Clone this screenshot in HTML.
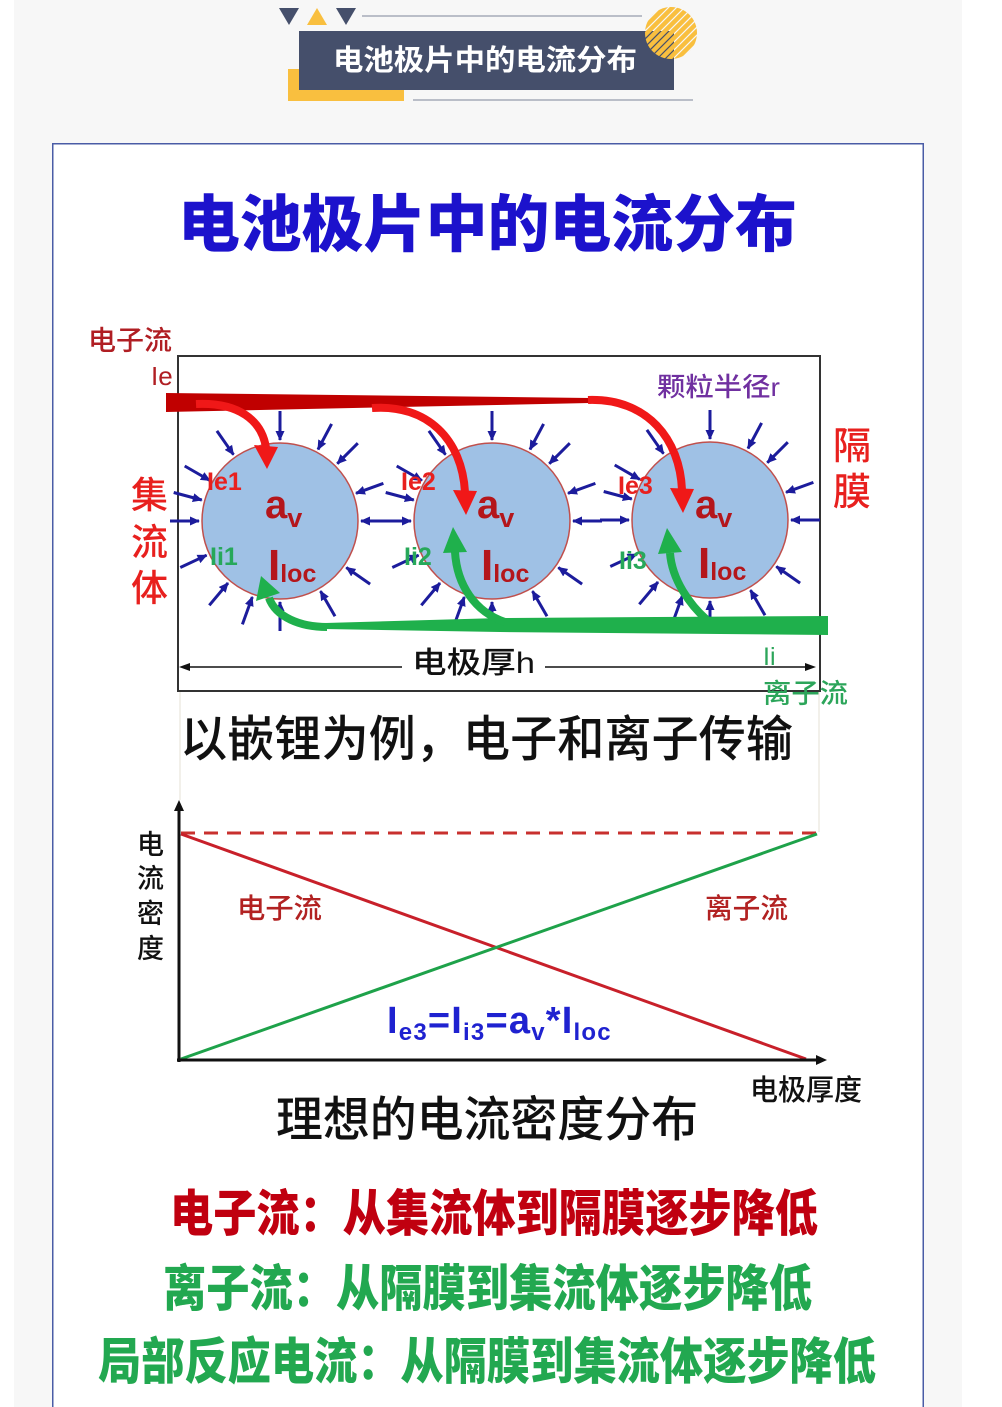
<!DOCTYPE html>
<html><head><meta charset="utf-8"><style>
html,body{margin:0;padding:0;background:#fff;}
svg{display:block}
.cjk{font-family:"Liberation Sans","Noto Sans CJK SC",sans-serif;}
.lat{font-family:"Liberation Sans",sans-serif;}
</style></head><body>
<svg width="1002" height="1407" viewBox="0 0 1002 1407" xmlns="http://www.w3.org/2000/svg">
<defs>
  <marker id="bh" markerWidth="10" markerHeight="10" refX="9" refY="5" orient="auto" markerUnits="userSpaceOnUse">
    <path d="M0,0.5 L10,5 L0,9.5 Z" fill="#1c1c9c"/>
  </marker>
  <clipPath id="cc"><circle cx="671" cy="33" r="26"/></clipPath>
  <g id="arr" stroke="#1c1c9c" stroke-width="3" marker-end="url(#bh)">
    <line x1="110" y1="0" x2="81" y2="0"/>
    <line x1="103.4" y1="-37.6" x2="76" y2="-27.7"/>
    <line x1="77.8" y1="-77.8" x2="57.3" y2="-57.3"/>
    <line x1="51.6" y1="-97.1" x2="38" y2="-71.5"/>
    <line x1="0" y1="-110" x2="0" y2="-81"/>
    <line x1="-63.1" y1="-90.1" x2="-46.5" y2="-66.3"/>
    <line x1="-95.3" y1="-55" x2="-70.1" y2="-40.5"/>
    <line x1="-106.3" y1="-28.5" x2="-78.2" y2="-21"/>
    <line x1="-110" y1="0" x2="-81" y2="0"/>
    <line x1="-99.7" y1="46.5" x2="-73.4" y2="34.2"/>
    <line x1="-70.7" y1="84.3" x2="-52" y2="62"/>
    <line x1="-37.6" y1="103.4" x2="-27.7" y2="76"/>
    <line x1="0" y1="110" x2="0" y2="81"/>
    <line x1="55" y1="95.3" x2="40.5" y2="70.1"/>
    <line x1="90.1" y1="63.1" x2="66.3" y2="46.5"/>
  </g>
</defs>

<!-- backgrounds -->
<rect x="0" y="0" width="1002" height="1407" fill="#ffffff"/>
<rect x="14" y="0" width="948" height="1407" fill="#f7f7f7"/>
<rect x="52.75" y="143.75" width="870.5" height="1290" fill="#ffffff" stroke="#4a5ca6" stroke-width="1.5"/>

<!-- header -->
<polygon points="279,8 299,8 289,25" fill="#454f6b"/>
<polygon points="307,25 327,25 317,8" fill="#f9bf3f"/>
<polygon points="336,8 356,8 346,25" fill="#454f6b"/>
<line x1="362" y1="16" x2="642" y2="16" stroke="#a6abb8" stroke-width="1.5"/>
<rect x="288" y="69" width="116" height="32" fill="#f9bf3f"/>
<rect x="299" y="31" width="375" height="59" fill="#454f6b"/>
<line x1="413" y1="100" x2="693" y2="100" stroke="#a6abb8" stroke-width="1.5"/>
<g clip-path="url(#cc)" stroke="#f9bf3f" stroke-width="4.5">
  <line x1="575" y1="73" x2="655" y2="-7"/>
  <line x1="583" y1="73" x2="663" y2="-7"/>
  <line x1="591" y1="73" x2="671" y2="-7"/>
  <line x1="599" y1="73" x2="679" y2="-7"/>
  <line x1="607" y1="73" x2="687" y2="-7"/>
  <line x1="615" y1="73" x2="695" y2="-7"/>
  <line x1="623" y1="73" x2="703" y2="-7"/>
  <line x1="631" y1="73" x2="711" y2="-7"/>
  <line x1="639" y1="73" x2="719" y2="-7"/>
  <line x1="647" y1="73" x2="727" y2="-7"/>
  <line x1="655" y1="73" x2="735" y2="-7"/>
  <line x1="663" y1="73" x2="743" y2="-7"/>
  <line x1="671" y1="73" x2="751" y2="-7"/>
  <line x1="679" y1="73" x2="759" y2="-7"/>
  <line x1="687" y1="73" x2="767" y2="-7"/>
</g>
<text class="cjk" x="333" y="70" font-size="29" font-weight="bold" fill="#ffffff" textLength="304" lengthAdjust="spacingAndGlyphs">电池极片中的电流分布</text>

<!-- main title -->
<text class="cjk" x="178" y="246" font-size="62" font-weight="900" fill="#1c12cc" textLength="619" lengthAdjust="spacingAndGlyphs">电池极片中的电流分布</text>

<!-- diagram box -->
<rect x="178" y="356" width="642" height="335" fill="none" stroke="#333" stroke-width="2"/>
<line x1="180" y1="692" x2="180" y2="800" stroke="#e4e0d4" stroke-width="1"/>
<line x1="819" y1="692" x2="819" y2="832" stroke="#e4e0d4" stroke-width="1"/>

<!-- blue arrows -->
<use href="#arr" x="280" y="521"/>
<use href="#arr" x="492" y="521"/>
<use href="#arr" x="710" y="520"/>

<!-- particles -->
<circle cx="280" cy="521" r="78" fill="#9fc1e5" stroke="#c0504d" stroke-width="1.5"/>
<circle cx="492" cy="521" r="78" fill="#9fc1e5" stroke="#c0504d" stroke-width="1.5"/>
<circle cx="710" cy="520" r="78" fill="#9fc1e5" stroke="#c0504d" stroke-width="1.5"/>

<!-- red bar and arrows -->
<polygon points="166,393 590,398 590,403 166,412" fill="#c00000"/>
<g fill="none" stroke="#f01818" stroke-width="8">
  <path d="M196,404 C238,402 262,420 266,448"/>
  <path d="M372,408 C428,404 462,440 465,492"/>
  <path d="M588,400 C648,398 680,440 682,490"/>
</g>
<g fill="#f01818">
  <polygon points="254,445 278,447 267,469"/>
  <polygon points="453,490 477,491 466,515"/>
  <polygon points="670,488 694,489 683,513"/>
</g>

<!-- green bar and arrows -->
<polygon points="325,623 500,618 828,616 828,635 500,632 325,629" fill="#1fb04c"/>
<g fill="none" stroke="#1fb04c" stroke-width="8">
  <path d="M327,627 C300,627 276,617 269,598"/>
  <path d="M505,622 C475,612 457,585 455,552"/>
  <path d="M707,620 C690,605 672,580 670,553"/>
</g>
<g fill="#1fb04c">
  <polygon points="261,576 256,601 280,593"/>
  <polygon points="453,527 443,553 467,552"/>
  <polygon points="667,528 658,554 682,552"/>
</g>

<!-- labels outside -->
<text class="cjk" x="88" y="350" font-size="27" font-weight="500" fill="#b01e23" textLength="84" lengthAdjust="spacingAndGlyphs">电子流</text>
<text class="lat" x="151" y="385" font-size="26" fill="#b01e23">Ie</text>
<text class="cjk" font-size="37" font-weight="500" fill="#e8201e">
  <tspan x="131" y="508">集</tspan>
  <tspan x="131" y="555">流</tspan>
  <tspan x="131" y="601">体</tspan>
</text>
<text class="cjk" font-size="38" font-weight="500" fill="#e8201e">
  <tspan x="833" y="459">隔</tspan>
  <tspan x="833" y="505">膜</tspan>
</text>
<text class="cjk" x="657" y="396" font-size="26" font-weight="500" fill="#7030a0" textLength="123" lengthAdjust="spacingAndGlyphs">颗粒半径r</text>

<!-- Ie / Ii labels -->
<g class="lat" font-size="25" font-weight="600">
  <text x="207" y="490" fill="#e8201e">Ie1</text>
  <text x="210" y="565" fill="#27a85a">Ii1</text>
  <text x="401" y="490" fill="#e8201e">Ie2</text>
  <text x="404" y="565" fill="#27a85a">Ii2</text>
  <text x="618" y="494" fill="#e8201e">Ie3</text>
  <text x="619" y="569" fill="#27a85a">Ii3</text>
</g>

<!-- av / Iloc -->
<g class="lat" font-weight="bold" fill="#b4161b">
  <text x="265" y="518" font-size="40">a<tspan font-size="27" dy="9">v</tspan></text>
  <text x="268" y="580" font-size="44">I<tspan font-size="25" dy="2">loc</tspan></text>
  <text x="477" y="518" font-size="40">a<tspan font-size="27" dy="9">v</tspan></text>
  <text x="481" y="580" font-size="44">I<tspan font-size="25" dy="2">loc</tspan></text>
  <text x="695" y="518" font-size="40">a<tspan font-size="27" dy="9">v</tspan></text>
  <text x="698" y="578" font-size="44">I<tspan font-size="25" dy="2">loc</tspan></text>
</g>

<!-- dimension line -->
<line x1="182" y1="667" x2="402" y2="667" stroke="#111" stroke-width="1.5"/>
<polygon points="179,667 190,663 190,671" fill="#111"/>
<line x1="545" y1="667" x2="812" y2="667" stroke="#111" stroke-width="1.5"/>
<polygon points="816,667 805,663 805,671" fill="#111"/>
<text class="cjk" x="412" y="673" font-size="30" font-weight="500" fill="#111" textLength="123" lengthAdjust="spacingAndGlyphs">电极厚h</text>
<text class="lat" x="763" y="665" font-size="25" fill="#2ca55a">Ii</text>
<text class="cjk" x="763" y="703" font-size="27" font-weight="500" fill="#2ca55a" textLength="85" lengthAdjust="spacingAndGlyphs">离子流</text>

<!-- caption -->
<text class="cjk" x="180" y="756" font-size="49" font-weight="500" fill="#111" textLength="613" lengthAdjust="spacingAndGlyphs">以嵌锂为例，电子和离子传输</text>

<!-- chart -->
<line x1="181" y1="833" x2="818" y2="833" stroke="#c8302e" stroke-width="3" stroke-dasharray="14 9"/>
<line x1="181" y1="834" x2="806" y2="1059" stroke="#c8202a" stroke-width="3"/>
<line x1="181" y1="1059" x2="817" y2="834" stroke="#1ea24a" stroke-width="3"/>
<line x1="179" y1="1062" x2="179" y2="808" stroke="#111" stroke-width="3"/>
<polygon points="174,811 184,811 179,800" fill="#111"/>
<line x1="177" y1="1060" x2="818" y2="1060" stroke="#111" stroke-width="3"/>
<polygon points="816,1055 816,1065 827,1060" fill="#111"/>

<text class="cjk" font-size="27" font-weight="500" fill="#111">
  <tspan x="137" y="854">电</tspan>
  <tspan x="137" y="888">流</tspan>
  <tspan x="137" y="923">密</tspan>
  <tspan x="137" y="958">度</tspan>
</text>
<text class="cjk" x="237" y="918" font-size="28" font-weight="500" fill="#b22222" textLength="85" lengthAdjust="spacingAndGlyphs">电子流</text>
<text class="cjk" x="705" y="918" font-size="28" font-weight="500" fill="#b22222" textLength="83" lengthAdjust="spacingAndGlyphs">离子流</text>
<text class="cjk" x="750" y="1100" font-size="29" font-weight="500" fill="#111" textLength="112" lengthAdjust="spacingAndGlyphs">电极厚度</text>

<text class="lat" x="387" y="1033" font-size="38" font-weight="bold" fill="#1f22d0" letter-spacing="1.2">I<tspan font-size="24" dy="7">e3</tspan><tspan dy="-7">=I</tspan><tspan font-size="24" dy="7">i3</tspan><tspan dy="-7">=a</tspan><tspan font-size="24" dy="7">v</tspan><tspan dy="-7">*I</tspan><tspan font-size="24" dy="7">loc</tspan></text>

<text class="cjk" x="276" y="1136" font-size="48" font-weight="500" fill="#111" textLength="422" lengthAdjust="spacingAndGlyphs">理想的电流密度分布</text>

<!-- bottom statements -->
<text class="cjk" x="170" y="1231" font-size="50" font-weight="900" fill="#c00010" textLength="648" lengthAdjust="spacingAndGlyphs">电子流：从集流体到隔膜逐步降低</text>
<text class="cjk" x="163" y="1306" font-size="50" font-weight="900" fill="#22a850" textLength="649" lengthAdjust="spacingAndGlyphs">离子流：从隔膜到集流体逐步降低</text>
<text class="cjk" x="98" y="1379" font-size="50" font-weight="900" fill="#22a850" textLength="778" lengthAdjust="spacingAndGlyphs">局部反应电流：从隔膜到集流体逐步降低</text>
</svg>
</body></html>
